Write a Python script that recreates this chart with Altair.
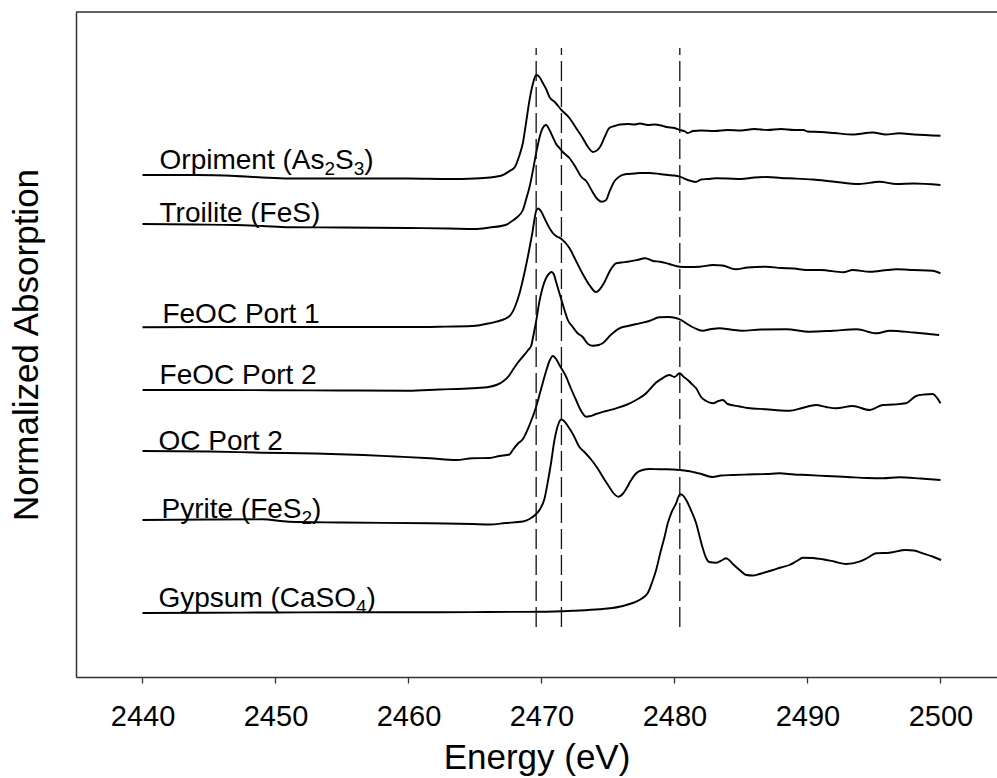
import altair as alt
import pandas as pd

# ---------------- data ----------------
SERIES = ["Orpiment", "Troilite", "FeOC Port 1", "FeOC Port 2", "OC Port 2", "Pyrite", "Gypsum"]

ORP_E = [2440.0, 2444.0, 2447.0, 2449.0, 2451.0, 2455.0, 2460.0, 2463.0, 2465.0, 2466.1, 2467.1, 2467.6,
         2468.0, 2468.3, 2468.6, 2468.85, 2469.1, 2469.35, 2469.6, 2469.85, 2470.1, 2470.35, 2470.6, 2471.0,
         2471.5, 2472.1, 2472.6, 2473.1, 2473.5, 2473.86, 2474.1, 2474.4, 2474.75, 2475.1, 2475.5, 2475.9,
         2476.5, 2477.0, 2477.4, 2478.0, 2478.5, 2479.0, 2479.4, 2480.0, 2480.4, 2480.8, 2481.0, 2481.4,
         2482.0, 2483.0, 2484.0, 2485.0, 2486.0, 2487.0, 2488.0, 2489.0, 2489.7, 2490.0, 2491.0, 2492.0,
         2493.4, 2494.9, 2495.9, 2496.9, 2498.0, 2500.0]
ORP_Y = [5.02, 5.02, 5.01, 4.995, 4.985, 4.985, 4.985, 4.98, 4.985, 4.995, 5.02, 5.06,
         5.10, 5.20, 5.34, 5.55, 5.77, 5.93, 6.02, 6.00, 5.94, 5.88, 5.80, 5.75,
         5.67, 5.59, 5.49, 5.39, 5.30, 5.25, 5.26, 5.30, 5.40, 5.49, 5.51, 5.525,
         5.53, 5.525, 5.535, 5.52, 5.525, 5.515, 5.50, 5.49, 5.47, 5.455, 5.44, 5.46,
         5.465, 5.46, 5.47, 5.465, 5.48, 5.47, 5.48, 5.47, 5.47, 5.455, 5.45, 5.44,
         5.425, 5.445, 5.425, 5.437, 5.425, 5.413]

TRO_E = [2440.0, 2444.0, 2447.0, 2449.0, 2451.0, 2455.0, 2460.0, 2463.0, 2465.0, 2466.1, 2467.3, 2467.8,
         2468.1, 2468.6, 2468.85, 2469.1, 2469.35, 2469.6, 2469.97, 2470.2, 2470.35, 2470.6, 2470.85, 2471.1,
         2471.35, 2471.6, 2472.1, 2472.6, 2473.0, 2473.36, 2473.8, 2474.2, 2474.5, 2474.86, 2475.1, 2475.5,
         2475.86, 2476.4, 2477.0, 2477.4, 2478.1, 2478.9, 2479.5, 2480.0, 2480.4, 2481.0, 2481.6, 2482.0,
         2482.5, 2483.1, 2484.0, 2485.0, 2486.0, 2487.0, 2488.0, 2489.0, 2490.4, 2491.9, 2493.9, 2495.4,
         2496.7, 2498.0, 2500.0]
TRO_Y = [4.53, 4.525, 4.52, 4.51, 4.497, 4.495, 4.49, 4.485, 4.48, 4.495, 4.52, 4.56,
         4.59, 4.67, 4.78, 4.90, 5.06, 5.24, 5.45, 5.51, 5.52, 5.47, 5.40, 5.33,
         5.29, 5.25, 5.19, 5.09, 5.00, 4.96, 4.86, 4.78, 4.753, 4.77, 4.85, 4.96,
         5.005, 5.03, 5.035, 5.04, 5.04, 5.03, 5.02, 5.015, 5.003, 4.97, 4.95, 4.975,
         4.98, 4.987, 4.985, 4.98, 4.995, 5.0, 4.99, 4.985, 4.975, 4.955, 4.93, 4.953,
         4.93, 4.935, 4.92]

FE1_E = [2440.0, 2445.0, 2450.0, 2455.0, 2460.0, 2462.3, 2464.8, 2466.1, 2466.6, 2467.6, 2468.0, 2468.35,
         2468.7, 2469.0, 2469.3, 2469.6, 2469.75, 2470.0, 2470.22, 2470.6, 2470.85, 2471.1, 2471.5, 2472.1,
         2472.6, 2473.1, 2473.6, 2474.1, 2474.4, 2474.74, 2475.1, 2475.6, 2476.0, 2476.6, 2477.2, 2477.8,
         2478.4, 2478.9, 2479.6, 2480.4, 2481.0, 2481.9, 2482.9, 2483.6, 2484.6, 2485.5, 2486.9, 2488.0,
         2489.0, 2489.9, 2491.0, 2492.7, 2493.4, 2494.7, 2496.0, 2496.7, 2498.0, 2499.4, 2500.0]
FE1_Y = [3.497, 3.50, 3.50, 3.50, 3.50, 3.503, 3.51, 3.537, 3.553, 3.61, 3.70, 3.837,
         4.03, 4.22, 4.43, 4.66, 4.685, 4.65, 4.59, 4.49, 4.44, 4.41, 4.38, 4.29,
         4.16, 4.03, 3.92, 3.85, 3.88, 3.95, 4.05, 4.137, 4.145, 4.155, 4.17, 4.187,
         4.16, 4.153, 4.13, 4.103, 4.10, 4.103, 4.12, 4.115, 4.077, 4.095, 4.103, 4.09,
         4.085, 4.07, 4.07, 4.047, 4.07, 4.053, 4.07, 4.077, 4.07, 4.063, 4.037]

FE2_E = [2440.0, 2445.0, 2450.0, 2455.0, 2460.0, 2462.3, 2464.8, 2466.1, 2466.6, 2467.1, 2467.6, 2467.84,
         2468.2, 2468.6, 2469.0, 2469.22, 2469.4, 2469.6, 2469.85, 2470.1, 2470.35, 2470.6, 2470.75, 2470.95,
         2471.1, 2471.3, 2471.48, 2471.75, 2471.98, 2472.35, 2472.7, 2473.1, 2473.5, 2473.86, 2474.3, 2474.6,
         2475.2, 2475.86, 2476.5, 2477.37, 2478.1, 2478.87, 2479.5, 2480.1, 2480.5, 2480.88, 2481.5, 2482.1,
         2482.8, 2483.4, 2484.2, 2485.1, 2486.5, 2488.4, 2490.15, 2491.9, 2493.7, 2495.2, 2496.2, 2498.0,
         2499.9]
FE2_Y = [2.87, 2.87, 2.868, 2.865, 2.863, 2.875, 2.887, 2.903, 2.92, 2.955, 3.02, 3.07,
         3.14, 3.203, 3.27, 3.31, 3.42, 3.56, 3.76, 3.90, 3.99, 4.037, 4.05, 4.02,
         3.95, 3.86, 3.78, 3.66, 3.57, 3.50, 3.44, 3.40, 3.33, 3.313, 3.32, 3.337,
         3.42, 3.487, 3.51, 3.537, 3.56, 3.597, 3.60, 3.59, 3.57, 3.537, 3.49, 3.463,
         3.48, 3.487, 3.475, 3.463, 3.475, 3.477, 3.453, 3.463, 3.477, 3.437, 3.463, 3.445,
         3.42]

OC2_E = [2440.0, 2445.0, 2449.0, 2453.0, 2456.6, 2459.0, 2461.6, 2463.6, 2464.8, 2466.1, 2466.84, 2467.6,
         2467.84, 2468.2, 2468.6, 2469.1, 2469.6, 2469.97, 2470.35, 2470.6, 2470.85, 2471.1, 2471.35, 2471.85,
         2472.2, 2472.6, 2472.9, 2473.36, 2473.7, 2474.11, 2474.86, 2475.61, 2476.36, 2477.12, 2477.87, 2478.3,
         2478.62, 2479.0, 2479.62, 2480.0, 2480.38, 2480.7, 2481.0, 2481.3, 2481.63, 2482.0, 2482.38, 2482.88,
         2483.3, 2483.63, 2484.0, 2484.9, 2485.5, 2486.9, 2488.0, 2488.65, 2489.6, 2490.65, 2491.4, 2492.16,
         2493.4, 2494.66, 2495.66, 2496.5, 2497.4, 2498.17, 2498.8, 2499.4, 2500.0]
OC2_Y = [2.26, 2.255, 2.243, 2.235, 2.22, 2.205, 2.187, 2.17, 2.187, 2.19, 2.21, 2.225,
         2.27, 2.33, 2.38, 2.52, 2.703, 2.88, 3.06, 3.16, 3.21, 3.18, 3.12, 3.003,
         2.89, 2.77, 2.68, 2.603, 2.61, 2.63, 2.66, 2.687, 2.72, 2.77, 2.837, 2.90,
         2.945, 2.98, 3.02, 3.00, 3.037, 3.00, 2.97, 2.93, 2.887, 2.80, 2.76, 2.737,
         2.76, 2.77, 2.73, 2.705, 2.69, 2.677, 2.665, 2.663, 2.69, 2.72, 2.70, 2.687,
         2.71, 2.67, 2.72, 2.725, 2.737, 2.81, 2.825, 2.83, 2.737]

PYR_E = [2440.0, 2445.0, 2449.0, 2451.0, 2455.0, 2461.6, 2464.8, 2466.1, 2467.3, 2468.6, 2469.1, 2469.6,
         2469.9, 2470.22, 2470.5, 2470.73, 2470.95, 2471.1, 2471.3, 2471.48, 2471.7, 2471.98, 2472.4, 2472.8,
         2473.3, 2473.7, 2474.2, 2474.6, 2475.1, 2475.4, 2475.8, 2476.1, 2476.36, 2476.7, 2477.12, 2477.6,
         2478.12, 2478.9, 2479.4, 2480.4, 2481.0, 2481.88, 2482.88, 2483.5, 2484.4, 2485.5, 2486.9, 2487.9,
         2489.0, 2490.0, 2491.4, 2493.0, 2494.5, 2495.66, 2496.9, 2498.5, 2500.0]
PYR_Y = [1.57, 1.575, 1.577, 1.553, 1.545, 1.537, 1.53, 1.525, 1.54, 1.555, 1.58, 1.63,
         1.68, 1.78, 1.97, 2.15, 2.35, 2.45, 2.54, 2.575, 2.56, 2.51, 2.42, 2.31,
         2.24, 2.18, 2.09, 2.003, 1.90, 1.84, 1.803, 1.83, 1.88, 1.96, 2.037, 2.07,
         2.08, 2.077, 2.077, 2.07, 2.06, 2.035, 2.0, 2.015, 2.02, 2.025, 2.03, 2.037,
         2.025, 2.02, 2.01, 2.0, 1.99, 1.987, 1.997, 1.985, 1.97]

GYP_E = [2440.0, 2445.0, 2450.0, 2455.0, 2460.0, 2462.3, 2466.0, 2469.85, 2472.35, 2474.36, 2475.86, 2476.5,
         2477.12, 2477.6, 2477.99, 2478.3, 2478.62, 2478.95, 2479.25, 2479.5, 2479.75, 2480.12, 2480.42, 2480.6,
         2480.88, 2481.2, 2481.63, 2481.9, 2482.1, 2482.38, 2482.6, 2483.13, 2483.6, 2483.88, 2484.1, 2484.39,
         2484.9, 2485.39, 2485.9, 2486.39, 2487.4, 2488.0, 2488.65, 2489.2, 2489.65, 2490.4, 2491.15, 2492.0,
         2492.9, 2493.9, 2494.5, 2495.16, 2496.17, 2497.4, 2498.0, 2498.67, 2499.4, 2500.05]
GYP_Y = [0.64, 0.643, 0.645, 0.648, 0.648, 0.647, 0.65, 0.653, 0.663, 0.677, 0.703, 0.725,
         0.753, 0.79, 0.84, 0.94, 1.07, 1.25, 1.40, 1.54, 1.637, 1.737, 1.827, 1.82,
         1.77, 1.68, 1.537, 1.40, 1.30, 1.19, 1.15, 1.143, 1.17, 1.187, 1.17, 1.13,
         1.07, 1.02, 1.015, 1.03, 1.07, 1.095, 1.12, 1.16, 1.193, 1.19, 1.177, 1.155,
         1.13, 1.153, 1.19, 1.237, 1.243, 1.27, 1.265, 1.237, 1.205, 1.17]

# label text as runs: (text, is_subscript)
LABEL_PARTS = [
    [("Orpiment (As", False), ("2", True), ("S", False), ("3", True), (")", False)],
    [("Troilite (FeS)", False)],
    [("FeOC Port 1", False)],
    [("FeOC Port 2", False)],
    [("OC Port 2", False)],
    [("Pyrite (FeS", False), ("2", True), (")", False)],
    [("Gypsum (CaSO", False), ("4", True), (")", False)],
]
LABEL_E = [2441.28, 2441.28, 2441.5, 2441.28, 2441.2, 2441.43, 2441.2]
LABEL_Y = [5.085, 4.55, 3.54, 2.93, 2.27, 1.59, 0.70]

DASH_E = [2469.6, 2471.5, 2480.4]
DASH_LOW = 0.50
DASH_HIGH = 6.29

X_TICKS = [2440, 2450, 2460, 2470, 2480, 2490, 2500]
X_DOMAIN = [2435, 2504.25]
Y_DOMAIN = [0, 6.65]

# ---------------- layout / styling ----------------
W, H = 921, 665
FONT = "Liberation Sans"
LABEL_SIZE = 28
SUB_SIZE = 19
SUB_DROP = 6  # px below the baseline
# Liberation Sans (Arial-compatible) advance widths, per 1000 em
CHAR_W = {" ": 278, "(": 333, ")": 333, "1": 556, "2": 556, "3": 556, "4": 556,
          "A": 667, "C": 722, "F": 611, "G": 778, "O": 778, "P": 667, "S": 667, "T": 611,
          "a": 556, "e": 556, "i": 222, "l": 222, "m": 833, "n": 556, "o": 556, "p": 556,
          "r": 333, "s": 500, "t": 278, "u": 556, "y": 500}

EV_PER_PX = (X_DOMAIN[1] - X_DOMAIN[0]) / W
UNIT_PER_PX = (Y_DOMAIN[1] - Y_DOMAIN[0]) / H


def text_width(s, size):
    return sum(CHAR_W.get(c, 556) for c in s) * size / 1000.0


# ---------------- build tables ----------------
pairs = [(ORP_E, ORP_Y), (TRO_E, TRO_Y), (FE1_E, FE1_Y), (FE2_E, FE2_Y),
         (OC2_E, OC2_Y), (PYR_E, PYR_Y), (GYP_E, GYP_Y)]
rows = []
for name, (es, ys) in zip(SERIES, pairs):
    for i, (e, y) in enumerate(zip(es, ys)):
        rows.append({"series": name, "energy": e, "value": y, "idx": i})
spec = pd.DataFrame(rows)

main_rows, sub_rows = [], []
for parts, e, v in zip(LABEL_PARTS, LABEL_E, LABEL_Y):
    off = 0.0
    for txt, sub in parts:
        fs = SUB_SIZE if sub else LABEL_SIZE
        row = {"text": txt,
               "energy": e + off * EV_PER_PX,
               "value": v - (SUB_DROP * UNIT_PER_PX if sub else 0.0)}
        (sub_rows if sub else main_rows).append(row)
        off += text_width(txt, fs)
main_df = pd.DataFrame(main_rows)
sub_df = pd.DataFrame(sub_rows)

dashes = pd.DataFrame({"energy": DASH_E, "lo": [DASH_LOW] * len(DASH_E), "hi": [DASH_HIGH] * len(DASH_E)})

xscale = alt.Scale(domain=X_DOMAIN, nice=False, zero=False)
yscale = alt.Scale(domain=Y_DOMAIN, nice=False, zero=False)

x_axis = alt.Axis(values=X_TICKS, title="Energy (eV)", grid=False, format="d",
                  labelFontSize=29, labelFont=FONT, labelColor="#000",
                  labelBaseline="alphabetic", labelPadding=42,
                  tickSize=6, tickColor="#333", tickWidth=1.3,
                  domainColor="#333", domainWidth=1.5,
                  titleFontSize=35, titleFont=FONT, titleFontWeight="normal", titleColor="#000",
                  titleBaseline="alphabetic", titleY=91)
y_axis = alt.Axis(title="Normalized Absorption", grid=False, labels=False, ticks=False,
                  domainColor="#333", domainWidth=1.5,
                  titleFontSize=35, titleFont=FONT, titleFontWeight="normal", titleColor="#000",
                  titleBaseline="alphabetic", titleX=-39)

lines = alt.Chart(spec).mark_line(color="black", strokeWidth=1.9, interpolate="monotone").encode(
    x=alt.X("energy:Q", scale=xscale, axis=x_axis),
    y=alt.Y("value:Q", scale=yscale, axis=y_axis),
    detail="series:N",
    order="idx:Q",
)

rules = alt.Chart(dashes).mark_rule(color="#111", strokeWidth=1.3, strokeDash=[20, 6]).encode(
    x="energy:Q", y="lo:Q", y2="hi:Q"
)

main_text = alt.Chart(main_df).mark_text(align="left", baseline="alphabetic", font=FONT,
                                         fontSize=LABEL_SIZE, color="black").encode(
    x="energy:Q", y="value:Q", text="text:N"
)
sub_text = alt.Chart(sub_df).mark_text(align="left", baseline="alphabetic", font=FONT,
                                       fontSize=SUB_SIZE, color="black").encode(
    x="energy:Q", y="value:Q", text="text:N"
)

top_border = alt.Chart(pd.DataFrame({"k": [0]})).mark_rule(color="#333", strokeWidth=1.5).encode(
    x=alt.value(0), x2=alt.value(W), y=alt.value(0)
)

chart = alt.layer(lines, rules, main_text, sub_text, top_border).properties(
    width=W, height=H,
    autosize=alt.AutoSizeParams(type="none"),
    padding={"left": 76, "top": 12, "right": 0, "bottom": 101},
).configure_view(stroke=None).configure(background="white")

chart.save("out.html", embed_options={"renderer": "svg", "actions": False})
